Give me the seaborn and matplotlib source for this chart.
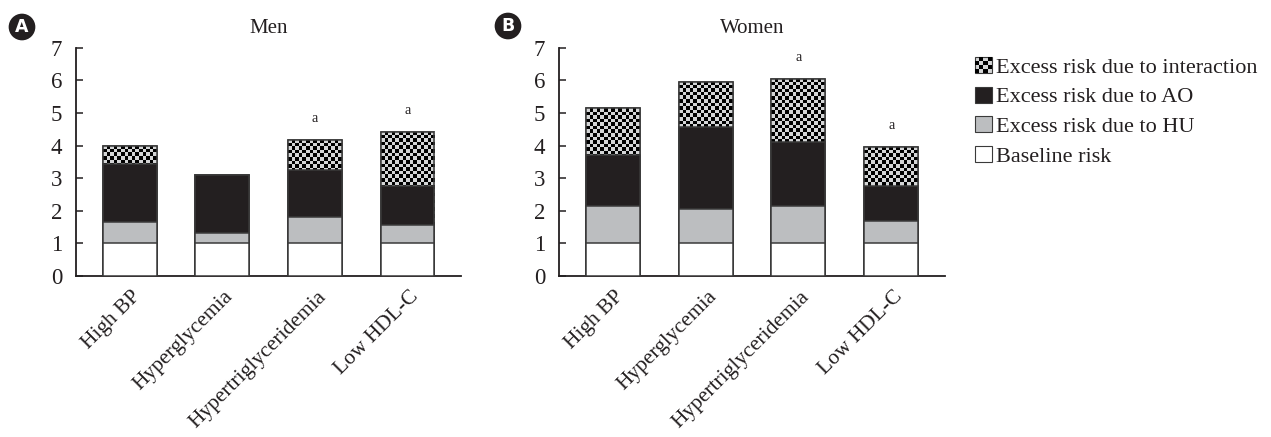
import numpy as np
import pandas as pd
import seaborn as sns
import matplotlib.pyplot as plt
from matplotlib.colors import ListedColormap
from matplotlib.patches import Patch, Rectangle
from matplotlib.legend_handler import HandlerBase
from matplotlib import transforms

# data
categories = ['High BP', 'Hyperglycemia', 'Hypertriglyceridemia', 'Low HDL-C']
men_baseline = [1.0, 1.0, 1.0, 1.0]
men_hu = [0.65, 0.31, 0.82, 0.57]
men_ao = [1.79, 1.79, 1.43, 1.18]
men_inter = [0.55, 0.0, 0.93, 1.67]
men_mark = ['', '', 'a', 'a']
women_baseline = [1.0, 1.0, 1.0, 1.0]
women_hu = [1.16, 1.05, 1.16, 0.69]
women_ao = [1.54, 2.53, 1.96, 1.08]
women_inter = [1.45, 1.38, 1.94, 1.20]
women_mark = ['', '', 'a', 'a']

DARK = '#231f20'
GRAY = '#bcbec0'
LIGHT = '#d4d5d6'
EDGE = '#3a3a3a'

sns.set_theme(style='ticks')
plt.rcParams['font.family'] = ['Liberation Serif', 'DejaVu Serif']
plt.rcParams['axes.edgecolor'] = DARK
plt.rcParams['text.color'] = DARK
plt.rcParams['xtick.color'] = DARK
plt.rcParams['ytick.color'] = DARK


def checker(ax, patches, cell=3.6):
    xr = ax.get_xlim()
    yr = ax.get_ylim()
    ux = (xr[1] - xr[0]) / ax.bbox.width
    uy = (yr[1] - yr[0]) / ax.bbox.height
    for p in patches:
        x0, y0 = p.get_x(), p.get_y()
        w, h = p.get_width(), p.get_height()
        if h <= 0:
            continue
        nc = max(1, int(round(w / ux / cell)))
        nr = max(1, int(round(h / uy / cell)))
        arr = (np.add.outer(np.arange(nr), np.arange(nc)) % 2).astype(float)
        im = ax.imshow(arr, extent=(x0, x0 + w, y0, y0 + h), origin='upper',
                       cmap=ListedColormap([LIGHT, 'black']), vmin=0, vmax=1,
                       interpolation='nearest', aspect='auto', zorder=1.5)
        im.set_clip_path(p)
        ax.add_patch(Rectangle((x0, y0), w, h, fill=False, edgecolor=EDGE,
                               linewidth=1.1, zorder=1.6))


def panel(ax, title, base, hu, ao, inter, marks):
    df = pd.DataFrame({'cat': categories})
    df['base'] = np.array(base)
    df['hu'] = df['base'] + np.array(hu)
    df['ao'] = df['hu'] + np.array(ao)
    df['total'] = df['ao'] + np.array(inter)
    layers = [('total', LIGHT, 1), ('ao', DARK, 2), ('hu', GRAY, 3), ('base', 'white', 4)]
    npatch = {}
    for col, colr, z in layers:
        before = len(ax.patches)
        sns.barplot(data=df, x='cat', y=col, order=categories, color=colr,
                    saturation=1, width=0.58, edgecolor=EDGE, linewidth=1.1,
                    errorbar=None, zorder=z, ax=ax)
        npatch[col] = ax.patches[before:]
    ax.set_xlim(-0.58, 3.58)
    ax.set_ylim(0, 7)
    checker(ax, npatch['total'])
    for i, m in enumerate(marks):
        if m:
            ax.text(i, df['total'][i] + 0.65, m, ha='center', va='center', fontsize=10)
    ax.set_xlabel('')
    ax.set_ylabel('')
    ax.set_title(title, fontsize=15, pad=11)
    ax.set_yticks(range(8))
    ax.tick_params(axis='y', direction='in', length=5, width=1.1, labelsize=16.5, pad=10)
    ax.tick_params(axis='x', length=0, labelsize=15.5, pad=13)
    offset = transforms.ScaledTranslation(6 / 72, 0, ax.figure.dpi_scale_trans)
    for lab in ax.get_xticklabels():
        lab.set_rotation(45)
        lab.set_ha('right')
        lab.set_va('center')
        lab.set_rotation_mode('anchor')
        lab.set_transform(lab.get_transform() + offset)
    for s in ['top', 'right']:
        ax.spines[s].set_visible(False)
    for s in ['left', 'bottom']:
        ax.spines[s].set_linewidth(1.3)


class CheckerHandler(HandlerBase):
    def create_artists(self, legend, orig_handle, xdescent, ydescent, width, height, fontsize, trans):
        arts = [Rectangle((-xdescent, -ydescent), width, height, facecolor=LIGHT,
                          edgecolor=EDGE, linewidth=0.8, transform=trans)]
        n = 4
        cw, ch = width / n, height / n
        for i in range(n):
            for j in range(n):
                if (i + j) % 2 == 0:
                    arts.append(Rectangle((-xdescent + i * cw, -ydescent + j * ch), cw, ch,
                                          facecolor='black', linewidth=0, transform=trans))
        return arts


fig = plt.figure(figsize=(12.71, 4.37), dpi=100)
ax1 = fig.add_axes([0.0598, 0.3684, 0.303, 0.522])
ax2 = fig.add_axes([0.4398, 0.3684, 0.3037, 0.522])
panel(ax1, 'Men', men_baseline, men_hu, men_ao, men_inter, men_mark)
panel(ax2, 'Women', women_baseline, women_hu, women_ao, women_inter, women_mark)

for x, y, t in [(22, 27, 'A'), (508, 26, 'B')]:
    fig.text(x / 1271, 1 - y / 437, t, ha='center', va='center', color='white',
             fontsize=12.5, fontweight='bold', family='DejaVu Sans',
             bbox=dict(boxstyle='circle,pad=0.25', facecolor=DARK, edgecolor='none'))

inter_h = Patch(facecolor=LIGHT)
handles = [inter_h,
           Patch(facecolor=DARK, edgecolor=EDGE, linewidth=0.8),
           Patch(facecolor=GRAY, edgecolor=EDGE, linewidth=0.8),
           Patch(facecolor='white', edgecolor=EDGE, linewidth=0.8)]
labels = ['Excess risk due to interaction', 'Excess risk due to AO',
          'Excess risk due to HU', 'Baseline risk']
fig.legend(handles, labels, loc='upper left', bbox_to_anchor=(975 / 1271, 1 - 57 / 437),
           frameon=False, fontsize=16, handlelength=0.75, handleheight=0.75,
           handletextpad=0.2, labelspacing=0.39, borderaxespad=0, borderpad=0,
           handler_map={inter_h: CheckerHandler()})

fig.savefig('out.png', dpi=100)
